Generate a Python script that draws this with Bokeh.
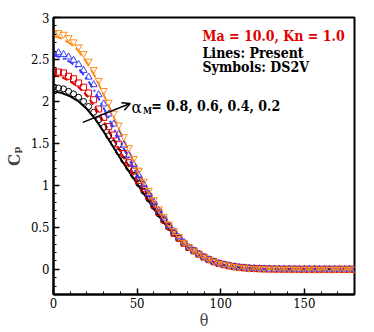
from bokeh.plotting import figure
from bokeh.models import Range1d, SingleIntervalTicker, NumeralTickFormatter, Label, Arrow, OpenHead
from bokeh.embed import file_html
from bokeh.resources import INLINE

# ---- data ----
theta_line = list(range(0, 181, 5))
cp_line_08 = [2.12, 2.10, 2.06, 2.00, 1.91, 1.79, 1.64, 1.48, 1.32, 1.17, 1.02, 0.87, 0.72, 0.58, 0.46,
              0.36, 0.27, 0.20, 0.14, 0.095, 0.062, 0.040, 0.025, 0.015, 0.009, 0.005, 0.003, 0.002,
              0.001, 0.001, 0.001, 0.001, 0.001, 0.001, 0.001, 0.001, 0.001]
cp_line_06 = [2.31, 2.29, 2.24, 2.17, 2.07, 1.93, 1.76, 1.58, 1.40, 1.23, 1.065, 0.90, 0.74, 0.59, 0.465,
              0.36, 0.27, 0.20, 0.14, 0.095, 0.062, 0.040, 0.025, 0.015, 0.009, 0.005, 0.003, 0.002,
              0.001, 0.001, 0.001, 0.001, 0.001, 0.001, 0.001, 0.001, 0.001]
cp_line_04 = [2.55, 2.52, 2.47, 2.39, 2.27, 2.11, 1.92, 1.72, 1.52, 1.32, 1.13, 0.945, 0.77, 0.61, 0.48,
              0.37, 0.275, 0.20, 0.14, 0.095, 0.062, 0.040, 0.025, 0.015, 0.009, 0.005, 0.003, 0.002,
              0.001, 0.001, 0.001, 0.001, 0.001, 0.001, 0.001, 0.001, 0.001]
cp_line_02 = [2.78, 2.75, 2.69, 2.60, 2.46, 2.29, 2.08, 1.86, 1.63, 1.41, 1.20, 0.99, 0.80, 0.63, 0.49,
              0.38, 0.28, 0.20, 0.14, 0.095, 0.062, 0.040, 0.025, 0.015, 0.009, 0.005, 0.003, 0.002,
              0.001, 0.001, 0.001, 0.001, 0.001, 0.001, 0.001, 0.001, 0.001]

theta_sym = list(range(0, 181, 3))
tail = [0.43, 0.37, 0.31, 0.26, 0.22, 0.18, 0.145, 0.115, 0.09, 0.07, 0.055, 0.042, 0.032, 0.024,
        0.018, 0.013, 0.010, 0.007, 0.005, 0.004, 0.003, 0.003, 0.002, 0.002, 0.002, 0.001, 0.001,
        0.001, 0.001, 0.001, 0.001, 0.001, 0.001, 0.001, 0.001, 0.001, 0.001]
cp_sym_08 = [2.17, 2.16, 2.15, 2.12, 2.09, 2.05, 2.00, 1.94, 1.87, 1.78, 1.69, 1.59, 1.50, 1.40, 1.30,
             1.21, 1.12, 1.02, 0.93, 0.84, 0.75, 0.66, 0.58, 0.50] + tail
cp_sym_06 = [2.36, 2.35, 2.34, 2.30, 2.27, 2.22, 2.17, 2.10, 2.02, 1.91, 1.81, 1.70, 1.60, 1.49, 1.38,
             1.27, 1.17, 1.06, 0.96, 0.87, 0.77, 0.68, 0.59, 0.51] + tail
cp_sym_04 = [2.58, 2.58, 2.56, 2.53, 2.49, 2.44, 2.37, 2.29, 2.20, 2.08, 1.97, 1.85, 1.73, 1.61, 1.48,
             1.36, 1.25, 1.12, 1.01, 0.90, 0.80, 0.70, 0.61, 0.52, 0.45, 0.38, 0.32] + tail[3:]
cp_sym_02 = [2.82, 2.82, 2.80, 2.76, 2.71, 2.65, 2.57, 2.48, 2.38, 2.25, 2.13, 1.99, 1.86, 1.72, 1.58,
             1.45, 1.32, 1.18, 1.05, 0.94, 0.83, 0.72, 0.63, 0.54, 0.46, 0.39, 0.32, 0.27] + tail[4:]

x_ticks_interval = 50
y_ticks_interval = 0.5

BLACK = "#000000"
RED = "#e00000"
BLUE = "#3c3cff"
ORANGE = "#ff8c1a"
FONT = "DejaVu Serif Condensed"

p = figure(width=374, height=332, output_backend="svg", toolbar_location=None,
           x_range=Range1d(0, 180), y_range=Range1d(-0.3, 3),
           min_border_left=49, min_border_right=20, min_border_top=17, min_border_bottom=37)
p.background_fill_color = "white"
p.border_fill_color = "white"
p.outline_line_color = "black"
p.outline_line_width = 2
p.xgrid.visible = False
p.ygrid.visible = False

for ax in (p.xaxis[0], p.yaxis[0]):
    ax.axis_line_width = 2
    ax.major_tick_in = 6
    ax.major_tick_out = 0
    ax.minor_tick_in = 3
    ax.minor_tick_out = 0
    ax.major_tick_line_width = 1.5
    ax.minor_tick_line_width = 1
    ax.major_label_text_font = FONT
    ax.major_label_text_font_size = "13px"
    ax.major_label_text_color = "black"

p.xaxis[0].ticker = SingleIntervalTicker(interval=x_ticks_interval, num_minor_ticks=5)
p.yaxis[0].ticker = SingleIntervalTicker(interval=y_ticks_interval, num_minor_ticks=5)
p.yaxis[0].formatter = NumeralTickFormatter(format="0.[0]")
p.xaxis[0].major_label_standoff = 3
p.yaxis[0].major_label_standoff = 4

p.xaxis[0].axis_label = "\u03b8"
p.xaxis[0].axis_label_text_font = FONT
p.xaxis[0].axis_label_text_font_style = "normal"
p.xaxis[0].axis_label_text_font_size = "16px"
p.xaxis[0].axis_label_standoff = 0

p.yaxis[0].axis_label = "C\u209a"
p.yaxis[0].axis_label_text_font = FONT
p.yaxis[0].axis_label_text_font_style = "bold"
p.yaxis[0].axis_label_text_font_size = "17px"
p.yaxis[0].axis_label_standoff = 4

# lines
p.line(theta_line, cp_line_08, line_color=BLACK, line_width=2)
p.line(theta_line, cp_line_06, line_color=RED, line_width=2, line_dash="6 3")
p.line(theta_line, cp_line_04, line_color=BLUE, line_width=2, line_dash="7 3 2 3")
p.line(theta_line, cp_line_02, line_color=ORANGE, line_width=2, line_dash="9 4")

# symbols
p.scatter(theta_sym, cp_sym_08, marker="circle", size=6, fill_color=None, line_color=BLACK, line_width=1)
p.scatter(theta_sym, cp_sym_06, marker="square", size=6, fill_color=None, line_color=RED, line_width=1)
p.scatter(theta_sym, cp_sym_04, marker="triangle", size=7, fill_color=None, line_color=BLUE, line_width=1)
p.scatter(theta_sym, cp_sym_02, marker="inverted_triangle", size=7, fill_color=None, line_color=ORANGE, line_width=1)

# texts
p.add_layout(Label(x=89.1, y=2.78, text="Ma = 10.0, Kn = 1.0", text_font=FONT, text_font_style="bold",
                   text_font_size="14px", text_color="#e00000", text_baseline="alphabetic"))
p.add_layout(Label(x=89.1, y=2.58, text="Lines: Present", text_font=FONT, text_font_style="bold",
                   text_font_size="14px", text_color="black", text_baseline="alphabetic"))
p.add_layout(Label(x=89.1, y=2.415, text="Symbols: DS2V", text_font=FONT, text_font_style="bold",
                   text_font_size="14px", text_color="black", text_baseline="alphabetic"))

p.add_layout(Label(x=46.7, y=1.93, text="\u03b1", text_font=FONT, text_font_size="17px",
                   text_color="black", text_baseline="alphabetic"))
p.add_layout(Label(x=53.5, y=1.885, text="M", text_font=FONT, text_font_style="bold", text_font_size="9px",
                   text_color="black", text_baseline="alphabetic"))
p.add_layout(Label(x=58.5, y=1.95, text=" = 0.8, 0.6, 0.4, 0.2", text_font=FONT, text_font_style="bold",
                   text_font_size="14px", text_color="black", text_baseline="alphabetic"))

p.add_layout(Arrow(x_start=17.5, y_start=1.75, x_end=45.9, y_end=1.976, line_width=1.5, line_color="black",
                   end=OpenHead(size=8, line_width=1.5, line_color="black")))

open("out.html", "w").write(file_html(p, INLINE))
